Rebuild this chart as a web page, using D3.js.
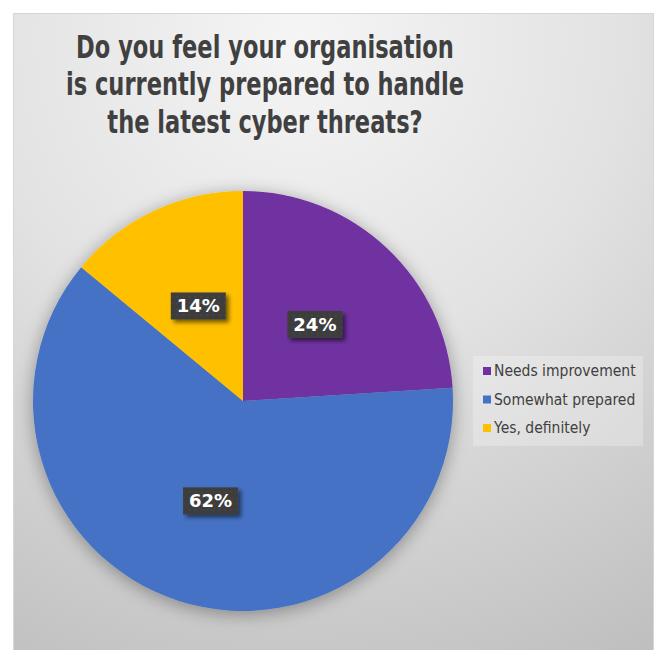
<!DOCTYPE html>
<html>
<head>
<meta charset="utf-8">
<script src="https://cdn.jsdelivr.net/npm/d3@7"></script>
<style>
  html, body { margin: 0; padding: 0; background: #ffffff; }
  svg { display: block; }
</style>
</head>
<body>
<svg id="chart" width="659" height="650"></svg>
<script>
// Survey answers and their shares (percent)
const categories = ["Needs improvement", "Somewhat prepared", "Yes, definitely"];
const values = [24, 62, 14];
const colors = ["#7030a0", "#4472c4", "#ffc000"];
const titleLines = [
  "Do you feel your organisation",
  "is currently prepared to handle",
  "the latest cyber threats?"
];

const svg = d3.select("#chart");
const defs = svg.append("defs");

// Chart area background: soft radial gray gradient
const bg = defs.append("radialGradient")
  .attr("id", "bgGrad")
  .attr("gradientUnits", "userSpaceOnUse")
  .attr("cx", 300).attr("cy", 40).attr("r", 720);
bg.append("stop").attr("offset", "0%").attr("stop-color", "#f5f5f5");
bg.append("stop").attr("offset", "45%").attr("stop-color", "#e2e2e2");
bg.append("stop").attr("offset", "100%").attr("stop-color", "#bdbdbd");

// Soft shadow around the pie
const pieShadow = defs.append("filter").attr("id", "pieShadow")
  .attr("x", "-20%").attr("y", "-20%").attr("width", "140%").attr("height", "140%");
pieShadow.append("feGaussianBlur").attr("in", "SourceAlpha").attr("stdDeviation", 9).attr("result", "b");
pieShadow.append("feOffset").attr("in", "b").attr("dx", 0).attr("dy", 3).attr("result", "o");
pieShadow.append("feComponentTransfer").attr("in", "o").attr("result", "s")
  .append("feFuncA").attr("type", "linear").attr("slope", 0.35);
const pm = pieShadow.append("feMerge");
pm.append("feMergeNode").attr("in", "s");
pm.append("feMergeNode").attr("in", "SourceGraphic");

// Shadow for data label boxes
const lblShadow = defs.append("filter").attr("id", "lblShadow")
  .attr("x", "-30%").attr("y", "-30%").attr("width", "170%").attr("height", "180%");
lblShadow.append("feGaussianBlur").attr("in", "SourceAlpha").attr("stdDeviation", 2).attr("result", "b");
lblShadow.append("feOffset").attr("in", "b").attr("dx", 3).attr("dy", 3).attr("result", "o");
lblShadow.append("feComponentTransfer").attr("in", "o").attr("result", "s")
  .append("feFuncA").attr("type", "linear").attr("slope", 0.55);
const lm = lblShadow.append("feMerge");
lm.append("feMergeNode").attr("in", "s");
lm.append("feMergeNode").attr("in", "SourceGraphic");

// Faint dotted texture for label boxes
const pat = defs.append("pattern").attr("id", "dots")
  .attr("patternUnits", "userSpaceOnUse").attr("width", 6).attr("height", 6);
pat.append("rect").attr("width", 6).attr("height", 6).attr("fill", "#3d3d3d");
pat.append("circle").attr("cx", 3).attr("cy", 3).attr("r", 0.8).attr("fill", "#4c4c4c");

// Chart area
svg.append("rect")
  .attr("x", 13.5).attr("y", 13.5)
  .attr("width", 640).attr("height", 660)
  .attr("fill", "url(#bgGrad)")
  .attr("stroke", "#d6d6d6").attr("stroke-width", 1);

// Title: bold face, narrowed horizontally
const titleX = 265, titleScale = 0.705;
const titleG = svg.append("g")
  .attr("transform", `translate(${titleX},0) scale(${titleScale},1)`);
titleG.selectAll("text").data(titleLines).join("text")
  .attr("x", 0)
  .attr("y", (d, i) => 58 + i * 37.5)
  .attr("text-anchor", "middle")
  .attr("font-family", "'DejaVu Sans', sans-serif")
  .attr("font-weight", "bold")
  .attr("font-size", 32)
  .attr("fill", "#404040")
  .text(d => d);

// Pie
const cx = 243, cy = 401, R = 210;
const pie = d3.pie().sort(null).value(d => d.value);
const arcs = pie(categories.map((c, i) => ({ name: c, value: values[i], color: colors[i] })));
const arc = d3.arc().innerRadius(0).outerRadius(R);

const g = svg.append("g").attr("transform", `translate(${cx},${cy})`);
g.append("g").attr("filter", "url(#pieShadow)")
  .selectAll("path").data(arcs).join("path")
  .attr("d", arc)
  .attr("fill", d => d.data.color);

// Data labels at the slice centroids
const lbl = g.selectAll("g.lbl").data(arcs).join("g")
  .attr("class", "lbl")
  .attr("transform", d => { const [x, y] = arc.centroid(d); return `translate(${x},${y})`; });
lbl.append("rect")
  .attr("x", -27.5).attr("y", -13.5).attr("width", 55).attr("height", 27)
  .attr("fill", "url(#dots)")
  .attr("filter", "url(#lblShadow)");
lbl.append("text")
  .attr("text-anchor", "middle")
  .attr("dy", "0.36em")
  .attr("font-family", "'DejaVu Sans', sans-serif")
  .attr("font-weight", "bold")
  .attr("font-size", 18)
  .attr("fill", "#ffffff")
  .text(d => d.data.value + "%");

// Legend
const lg = svg.append("g").attr("transform", "translate(473,356)");
lg.append("rect").attr("width", 170).attr("height", 90)
  .attr("fill", "#ffffff").attr("fill-opacity", 0.25);
const items = lg.selectAll("g.item").data(categories).join("g")
  .attr("class", "item")
  .attr("transform", (d, i) => `translate(0,${20 + i * 28.5})`);
items.append("rect").attr("x", 10).attr("y", -9).attr("width", 8).attr("height", 8)
  .attr("fill", (d, i) => colors[i]);
items.append("text")
  .attr("transform", "translate(21,0) scale(0.9,1)")
  .attr("font-family", "'DejaVu Sans', sans-serif")
  .attr("font-size", 15.5)
  .attr("fill", "#404040")
  .text(d => d);
</script>
</body>
</html>
